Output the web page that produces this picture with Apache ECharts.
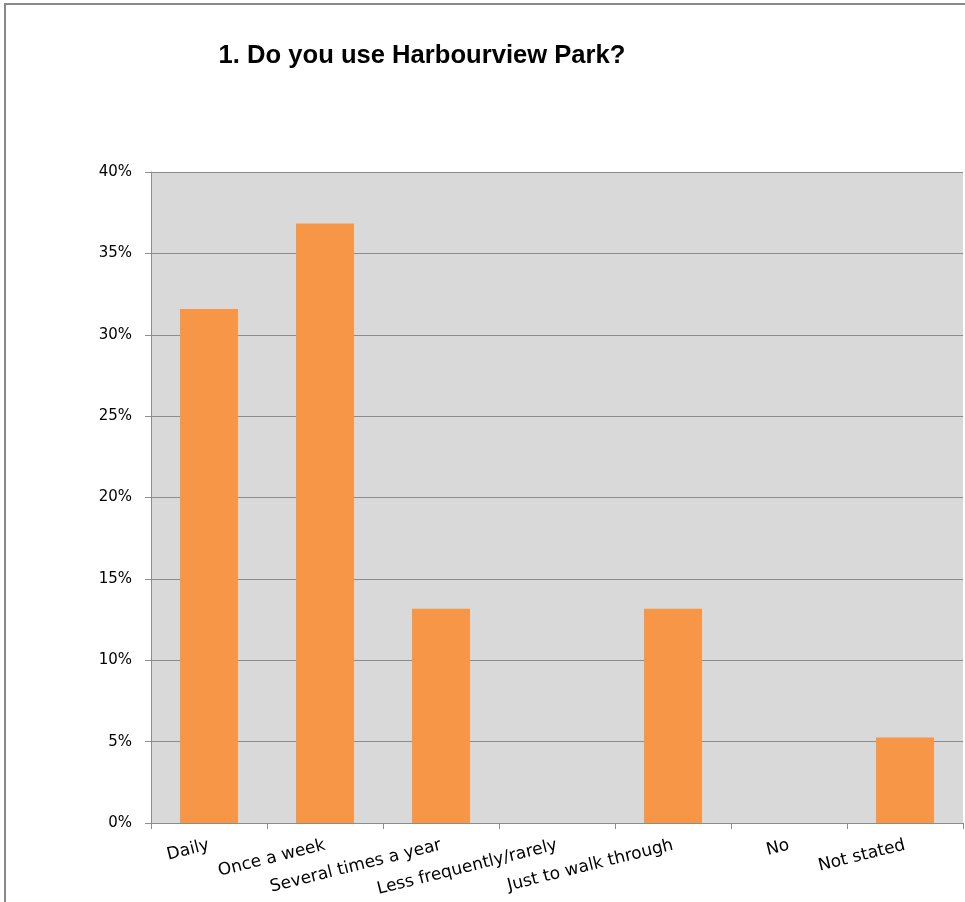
<!DOCTYPE html>
<html>
<head>
<meta charset="utf-8">
<script src="https://cdn.jsdelivr.net/npm/echarts@6/dist/echarts.min.js"></script>
<style>
  html, body { margin: 0; padding: 0; background: #ffffff; }
  #chart { width: 965px; height: 902px; }
</style>
</head>
<body>
<div id="chart"></div>
<script>
// Survey question 1: frequency of park use (share of respondents)
const categories = ['Daily', 'Once a week', 'Several times a year', 'Less frequently/rarely', 'Just to walk through', 'No', 'Not stated'];
const shares = [31.58, 36.84, 13.16, 0, 13.16, 0, 5.26];
const yTicks = { min: 0, max: 40, interval: 5 };

const chart = echarts.init(document.getElementById('chart'), null, { renderer: 'canvas' });

chart.setOption({
  animation: false,
  backgroundColor: '#ffffff',
  title: {
    text: '1. Do you use Harbourview Park?',
    left: 417,
    top: 38,
    textAlign: 'center',
    textStyle: {
      fontFamily: 'Liberation Sans, Arial, sans-serif',
      fontWeight: 'bold',
      fontSize: 25.6,
      color: '#000000'
    }
  },
  graphic: [
    {
      type: 'polyline',
      shape: { points: [[5, 902], [5, 4], [965, 4]] },
      style: { stroke: '#8a8a8a', lineWidth: 2, fill: null },
      silent: true
    }
  ],
  grid: {
    left: 151,
    right: 2,
    top: 172,
    bottom: 79,
    containLabel: false,
    show: true,
    backgroundColor: '#d9d9d9',
    borderWidth: 0
  },
  xAxis: {
    type: 'category',
    data: categories,
    boundaryGap: true,
    axisLine: { show: true, lineStyle: { color: '#8c8c8c', width: 1 } },
    axisTick: { show: true, alignWithLabel: false, length: 6, lineStyle: { color: '#8c8c8c' } },
    axisLabel: {
      interval: 0,
      rotate: 14,
      margin: 22,
      color: '#000000',
      fontFamily: 'DejaVu Sans, Verdana, sans-serif',
      fontSize: 17
    }
  },
  yAxis: {
    type: 'value',
    min: yTicks.min,
    max: yTicks.max,
    interval: yTicks.interval,
    axisLine: { show: true, lineStyle: { color: '#8c8c8c', width: 1 } },
    axisTick: { show: true, length: 6, lineStyle: { color: '#8c8c8c' } },
    splitLine: { show: true, lineStyle: { color: '#8c8c8c', width: 1 } },
    axisLabel: {
      formatter: '{value}%',
      margin: 19,
      color: '#000000',
      fontFamily: 'DejaVu Sans, Verdana, sans-serif',
      fontSize: 15
    }
  },
  series: [
    {
      type: 'bar',
      data: shares,
      barWidth: '50%',
      itemStyle: { color: '#f79646' }
    }
  ]
});
</script>
</body>
</html>
